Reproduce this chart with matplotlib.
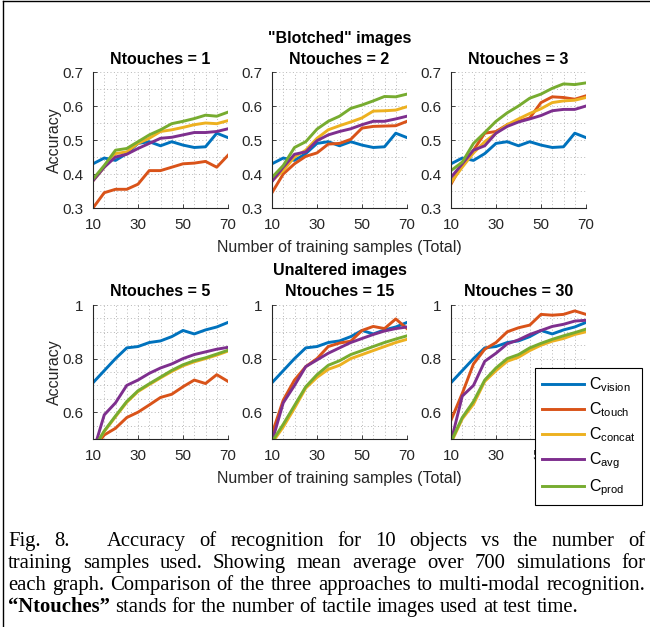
import matplotlib
matplotlib.use("Agg")
import matplotlib.pyplot as plt
from matplotlib.ticker import MultipleLocator, FuncFormatter
from matplotlib.lines import Line2D

W, H = 650, 627

plt.rcParams['font.family'] = ['Liberation Sans', 'DejaVu Sans']
plt.rcParams['mathtext.fontset'] = 'custom'
plt.rcParams['mathtext.rm'] = 'Liberation Sans'

# training samples (total)
samples = [10, 15, 20, 25, 30, 35, 40, 45, 50, 55, 60, 65, 70]

# "Blotched" images - vision is the same for every Ntouches
vision_blotched = [0.43, 0.447, 0.44, 0.46, 0.49, 0.495, 0.483, 0.495, 0.485, 0.478, 0.48, 0.52, 0.507]

touch_1 = [0.30, 0.345, 0.355, 0.355, 0.37, 0.41, 0.41, 0.42, 0.43, 0.432, 0.437, 0.42, 0.455]
concat_1 = [0.38, 0.42, 0.46, 0.465, 0.49, 0.505, 0.525, 0.53, 0.537, 0.545, 0.55, 0.548, 0.557]
avg_1 = [0.38, 0.42, 0.45, 0.458, 0.475, 0.49, 0.505, 0.508, 0.515, 0.522, 0.522, 0.525, 0.533]
prod_1 = [0.385, 0.425, 0.47, 0.475, 0.495, 0.515, 0.53, 0.548, 0.555, 0.563, 0.573, 0.57, 0.582]

touch_2 = [0.345, 0.40, 0.43, 0.452, 0.462, 0.488, 0.49, 0.502, 0.535, 0.54, 0.541, 0.542, 0.555]
concat_2 = [0.38, 0.41, 0.45, 0.47, 0.505, 0.53, 0.542, 0.553, 0.565, 0.585, 0.586, 0.588, 0.598]
avg_2 = [0.378, 0.42, 0.458, 0.465, 0.498, 0.515, 0.525, 0.533, 0.545, 0.555, 0.555, 0.562, 0.57]
prod_2 = [0.39, 0.425, 0.478, 0.495, 0.532, 0.555, 0.57, 0.593, 0.603, 0.615, 0.628, 0.627, 0.635]

touch_3 = [0.37, 0.43, 0.47, 0.52, 0.525, 0.545, 0.555, 0.565, 0.61, 0.627, 0.625, 0.62, 0.63]
concat_3 = [0.375, 0.42, 0.462, 0.495, 0.52, 0.545, 0.562, 0.578, 0.592, 0.61, 0.615, 0.617, 0.625]
avg_3 = [0.39, 0.43, 0.47, 0.483, 0.52, 0.54, 0.553, 0.562, 0.572, 0.586, 0.59, 0.59, 0.60]
prod_3 = [0.41, 0.435, 0.49, 0.522, 0.555, 0.58, 0.60, 0.623, 0.635, 0.652, 0.665, 0.663, 0.668]

# Unaltered images
vision_unaltered = [0.71, 0.755, 0.80, 0.84, 0.845, 0.86, 0.866, 0.882, 0.905, 0.892, 0.907, 0.918, 0.935]

touch_5 = [0.46, 0.515, 0.54, 0.58, 0.60, 0.627, 0.655, 0.667, 0.695, 0.72, 0.707, 0.74, 0.715]
concat_5 = [0.46, 0.528, 0.583, 0.637, 0.677, 0.703, 0.728, 0.752, 0.773, 0.788, 0.80, 0.813, 0.828]
avg_5 = [0.45, 0.59, 0.635, 0.70, 0.72, 0.745, 0.765, 0.78, 0.80, 0.815, 0.825, 0.835, 0.842]
prod_5 = [0.46, 0.53, 0.586, 0.64, 0.68, 0.706, 0.731, 0.756, 0.777, 0.792, 0.803, 0.817, 0.831]

touch_15 = [0.52, 0.645, 0.72, 0.77, 0.80, 0.845, 0.858, 0.865, 0.905, 0.92, 0.912, 0.948, 0.912]
concat_15 = [0.485, 0.545, 0.615, 0.69, 0.73, 0.76, 0.775, 0.80, 0.815, 0.83, 0.845, 0.86, 0.872]
avg_15 = [0.49, 0.635, 0.70, 0.77, 0.795, 0.82, 0.84, 0.86, 0.875, 0.89, 0.903, 0.912, 0.918]
prod_15 = [0.49, 0.555, 0.625, 0.695, 0.74, 0.775, 0.792, 0.815, 0.83, 0.845, 0.86, 0.873, 0.885]

touch_30 = [0.57, 0.67, 0.78, 0.835, 0.86, 0.90, 0.915, 0.925, 0.965, 0.962, 0.965, 0.978, 0.965]
concat_30 = [0.485, 0.575, 0.63, 0.715, 0.755, 0.79, 0.805, 0.83, 0.85, 0.865, 0.875, 0.89, 0.90]
avg_30 = [0.49, 0.66, 0.70, 0.79, 0.82, 0.855, 0.87, 0.89, 0.905, 0.92, 0.928, 0.94, 0.943]
prod_30 = [0.49, 0.58, 0.64, 0.72, 0.765, 0.80, 0.815, 0.84, 0.857, 0.872, 0.885, 0.897, 0.91]

method_labels = [r'C$_{\rm vision}$', r'C$_{\rm touch}$', r'C$_{\rm concat}$',
                 r'C$_{\rm avg}$', r'C$_{\rm prod}$']
colors = ['#0072BD', '#D95319', '#EDB120', '#7E2F8E', '#77AC30']
x_ticks = [10, 30, 50, 70]

panels = [
    ("Ntouches = 1", [vision_blotched, touch_1, concat_1, avg_1, prod_1]),
    ("Ntouches = 2", [vision_blotched, touch_2, concat_2, avg_2, prod_2]),
    ("Ntouches = 3", [vision_blotched, touch_3, concat_3, avg_3, prod_3]),
    ("Ntouches = 5", [vision_unaltered, touch_5, concat_5, avg_5, prod_5]),
    ("Ntouches = 15", [vision_unaltered, touch_15, concat_15, avg_15, prod_15]),
    ("Ntouches = 30", [vision_unaltered, touch_30, concat_30, avg_30, prod_30]),
]

fig = plt.figure(figsize=(W / 100, H / 100), dpi=100)

def fx(px):
    return px / W

def fy(py):
    return 1 - py / H

col_x = [(93, 228), (272, 407), (451, 586)]
row_y = [(72, 208), (305, 439)]
dark = '#262626'

axes = []
for i, (title, series) in enumerate(panels):
    r, c = divmod(i, 3)
    x0, x1 = col_x[c]
    y0, y1 = row_y[r]
    ax = fig.add_axes([fx(x0), fy(y1), (x1 - x0) / W, (y1 - y0) / H])
    for vals, col, lab in zip(series, colors, method_labels):
        ax.plot(samples, vals, color=col, lw=2.1, label=lab)
    ax.set_xlim(10, 70)
    ax.set_xticks(x_ticks)
    ax.xaxis.set_minor_locator(MultipleLocator(5))
    if r == 0:
        ax.set_ylim(0.3, 0.7)
        ax.yaxis.set_major_locator(MultipleLocator(0.1))
    else:
        ax.set_ylim(0.5, 1.0)
        ax.set_yticks([0.6, 0.8, 1.0])
    ax.yaxis.set_minor_locator(MultipleLocator(0.05))
    ax.yaxis.set_major_formatter(FuncFormatter(lambda v, p: '%g' % round(v, 2)))
    ax.grid(True, which='both', linestyle=(0, (1, 2.5)), color='#b8b8b8', lw=0.7)
    ax.set_axisbelow(True)
    for s in ['top', 'right']:
        ax.spines[s].set_visible(False)
    for s in ['left', 'bottom']:
        ax.spines[s].set_color(dark)
        ax.spines[s].set_linewidth(0.8)
    ax.tick_params(which='major', direction='in', length=3, width=0.6, colors=dark,
                   labelsize=11, pad=7)
    ax.tick_params(which='minor', length=0)
    fig.text(fx((x0 + x1) / 2), fy(y0 - 13), title, ha='center', va='center',
             fontsize=11.5, weight='bold', color='black')
    axes.append(ax)

# the legend hides the last "70" label in the original
axes[5].set_xticklabels(['10', '30', '50', ''])

# row headers and shared labels
fig.text(fx(339.5), fy(39), '"Blotched" images', ha='center', va='center',
         fontsize=11.5, weight='bold')
fig.text(fx(339.5), fy(270), 'Unaltered images', ha='center', va='center',
         fontsize=11.5, weight='bold')
fig.text(fx(339.5), fy(248), 'Number of training samples (Total)', ha='center',
         va='center', fontsize=11.5, color=dark)
fig.text(fx(339.5), fy(479), 'Number of training samples (Total)', ha='center',
         va='center', fontsize=11.5, color=dark)
fig.text(fx(54), fy(140), 'Accuracy', rotation=90, ha='center', va='center',
         fontsize=11.5, color=dark)
fig.text(fx(54), fy(372), 'Accuracy', rotation=90, ha='center', va='center',
         fontsize=11.5, color=dark)

# legend sits on top of the last panel, like the original
leg = fig.legend(*axes[5].get_legend_handles_labels(), loc='upper left',
                 bbox_to_anchor=(fx(535), fy(368)), fontsize=11.5, frameon=True,
                 fancybox=False, edgecolor='black', framealpha=1,
                 handlelength=2.6, handletextpad=0.3, labelspacing=0.4,
                 borderpad=0.45, borderaxespad=0)
leg.get_frame().set_linewidth(0.8)
leg.set_zorder(10)

# outer frame (left and top edges visible)
fig.add_artist(Line2D([fx(3), fx(3)], [0, fy(1)], color='black', lw=1))
fig.add_artist(Line2D([fx(3), 1], [fy(1), fy(1)], color='black', lw=1))

# caption, justified like the paper
cap_lines = [
    [("Fig.", False), ("8.", False), ("Accuracy", False), ("of", False), ("recognition", False),
     ("for", False), ("10", False), ("objects", False), ("vs", False), ("the", False),
     ("number", False), ("of", False)],
    [(w, False) for w in "training samples used. Showing mean average over 700 simulations for".split()],
    [(w, False) for w in "each graph. Comparison of the three approaches to multi-modal recognition.".split()],
    [("\u201cNtouches\u201d", True)] + [(w, False) for w in "stands for the number of tactile images used at test time.".split()],
]
cap_base = [546, 568, 590, 612]
cap_x0, cap_x1 = 8, 645

renderer = fig.canvas.get_renderer()

def measure(s, size, bold=False):
    t = fig.text(0, 0, s, fontsize=size, family='Liberation Serif',
                 weight='bold' if bold else 'normal')
    w = t.get_window_extent(renderer).width
    t.remove()
    return w

def natural_width(words, size):
    sp = measure("a a", size) - measure("aa", size)
    return sum(measure(w, size, b) for w, b in words) + sp * (len(words) - 1)

# caption size chosen so the tightest line just fills the column
cap_size = 12.6
cap_size *= (cap_x1 - cap_x0) * 0.99 / natural_width(cap_lines[2], cap_size)
space_w = measure("a a", cap_size) - measure("aa", cap_size)

for li, words in enumerate(cap_lines):
    widths = [measure(w, cap_size, b) for w, b in words]
    extra = [0.0] * len(words)
    if li == 0:
        extra[2] = 24
    last = li == len(cap_lines) - 1
    n_gaps = len(words) - 1
    if last:
        gap = space_w
    else:
        gap = (cap_x1 - cap_x0 - sum(widths) - sum(extra)) / n_gaps
    x = cap_x0
    for (w, b), wd, ex in zip(words, widths, extra):
        x += ex
        fig.text(fx(x), fy(cap_base[li]), w, fontsize=cap_size, family='Liberation Serif',
                 weight='bold' if b else 'normal', va='baseline', ha='left')
        x += wd + gap

fig.savefig('out.png', dpi=100)
